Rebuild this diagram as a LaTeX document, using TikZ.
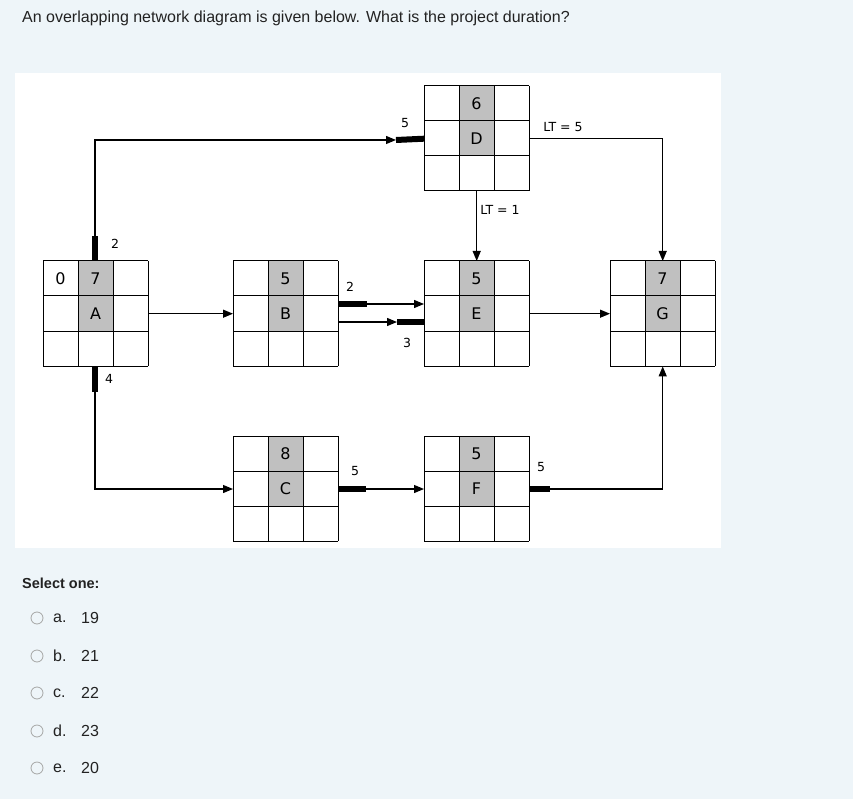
\documentclass[tikz,border=0pt]{standalone}
\usepackage{fontspec}
\setmainfont{Liberation Sans}
\newfontfamily\dv{DejaVu Sans}
\usetikzlibrary{arrows.meta}
\definecolor{pagebg}{HTML}{EEF5F9}
\definecolor{cellgray}{HTML}{C0C0C0}
\definecolor{txt}{HTML}{222222}
\tikzset{
  conn/.style={draw=black, line width=1.2pt},
  arr/.style={conn, -{Triangle[length=10pt,width=8pt]}},
  bar/.style={draw=black, line width=6pt},
  lbl/.style={font=\dv\fontsize{12.5}{14}\selectfont, inner sep=0pt},
  cell/.style={font=\dv\fontsize{16}{18}\selectfont, inner sep=0pt},
  qtext/.style={font=\fontsize{16}{18}\selectfont, text=txt, anchor=west, inner sep=0pt},
  radio/.style={draw=gray!70, line width=0.8pt, circle, minimum size=12pt, inner sep=0pt},
  gridline/.style={draw=black, line width=1pt}
}
% \actbox{name}{x}{y}{top}{mid}
\newcommand{\actbox}[5]{%
  \fill[cellgray] (#2+35,#3) rectangle (#2+70,#3+70);
  \foreach \k in {0,35,70,105}{
    \draw[gridline] (#2+\k,#3) -- (#2+\k,#3+105);
    \draw[gridline] (#2,#3+\k) -- (#2+105,#3+\k);
  }
  \node[draw=none, minimum size=105pt, inner sep=0pt, anchor=north west] (#1) at (#2,#3) {};
  \node[cell] at (#2+52.5,#3+17.5) {#4};
  \node[cell] at (#2+52.5,#3+52.5) {#5};
}
\begin{document}
\begin{tikzpicture}[x=1pt,y=-1pt]
\fill[pagebg] (0,0) rectangle (853,799);
\useasboundingbox (0,0) rectangle (853,799);
\fill[white] (15,73) rectangle (721,548);
\node[qtext] (q) at (22,18) {An overlapping network diagram is given below. What is the project duration?};

\actbox{A}{43}{261}{7}{A}
\node[cell] (a0) at (60.5,278.5) {0};
\actbox{B}{233}{261}{5}{B}
\actbox{C}{233}{436}{8}{C}
\actbox{D}{424}{86}{6}{D}
\actbox{E}{424}{261}{5}{E}
\actbox{F}{424}{436}{5}{F}
\actbox{G}{610}{261}{7}{G}

% A -> D
\coordinate (atop) at (95,236);
\coordinate (c1) at (95,140);
\coordinate (dbar) at (396,140);
\draw[bar] (A.north -| atop) -- (atop);
\draw[arr] (atop) -- (c1) -- (dbar);
\draw[bar] (dbar) -- (D.west);
\node[lbl] at (115,244) {2};
\node[lbl] at (405,123) {5};
% A -> B
\draw[arr] (A.east) -- (B.west);
% A -> C
\coordinate (abot) at (95,392);
\coordinate (c2) at (95,489);
\draw[bar] (A.south -| abot) -- (abot);
\draw[arr] (abot) -- (c2) -- (C.west |- c2);
\node[lbl] at (109,379) {4};
% B -> E
\coordinate (b1) at (367,304);
\draw[bar] (B.east |- b1) -- (b1);
\draw[arr] (b1) -- (E.west |- b1);
\node[lbl] at (350,287) {2};
\coordinate (b2) at (397,322);
\draw[arr] (B.east |- b2) -- (b2);
\draw[bar] (b2) -- (E.west |- b2);
\node[lbl] at (407,343) {3};
% C -> F
\coordinate (cf) at (366,489);
\draw[bar] (C.east |- cf) -- (cf);
\draw[arr] (cf) -- (F.west |- cf);
\node[lbl] at (355,471) {5};
% D -> E
\draw[arr] (D.south) -- (E.north);
\node[lbl] at (500,210) {LT = 1};
% D -> G
\coordinate (dg) at (G.north |- D.east);
\draw[arr] (D.east) -- (dg) -- (G.north);
\node[lbl] at (563,127) {LT = 5};
% E -> G
\draw[arr] (E.east) -- (G.west);
% F -> G
\coordinate (fb) at (550,489);
\coordinate (fg) at (G.south |- fb);
\draw[bar] (F.east |- fb) -- (fb);
\draw[arr] (fb) -- (fg) -- (G.south);
\node[lbl] at (541,467) {5};

\node[qtext, font=\bfseries\fontsize{14.5}{16}\selectfont] (sel) at (22,583) {Select one:};
\foreach \y/\l/\v [count=\i] in {618/a./19, 656/b./21, 693/c./22, 731/d./23, 768/e./20}{
  \node[radio] (r\i) at (37,\y) {};
  \node[qtext] (l\i) at (53,\y) {\l};
  \node[qtext] (v\i) at (81,\y) {\v};
}
\end{tikzpicture}
\end{document}
